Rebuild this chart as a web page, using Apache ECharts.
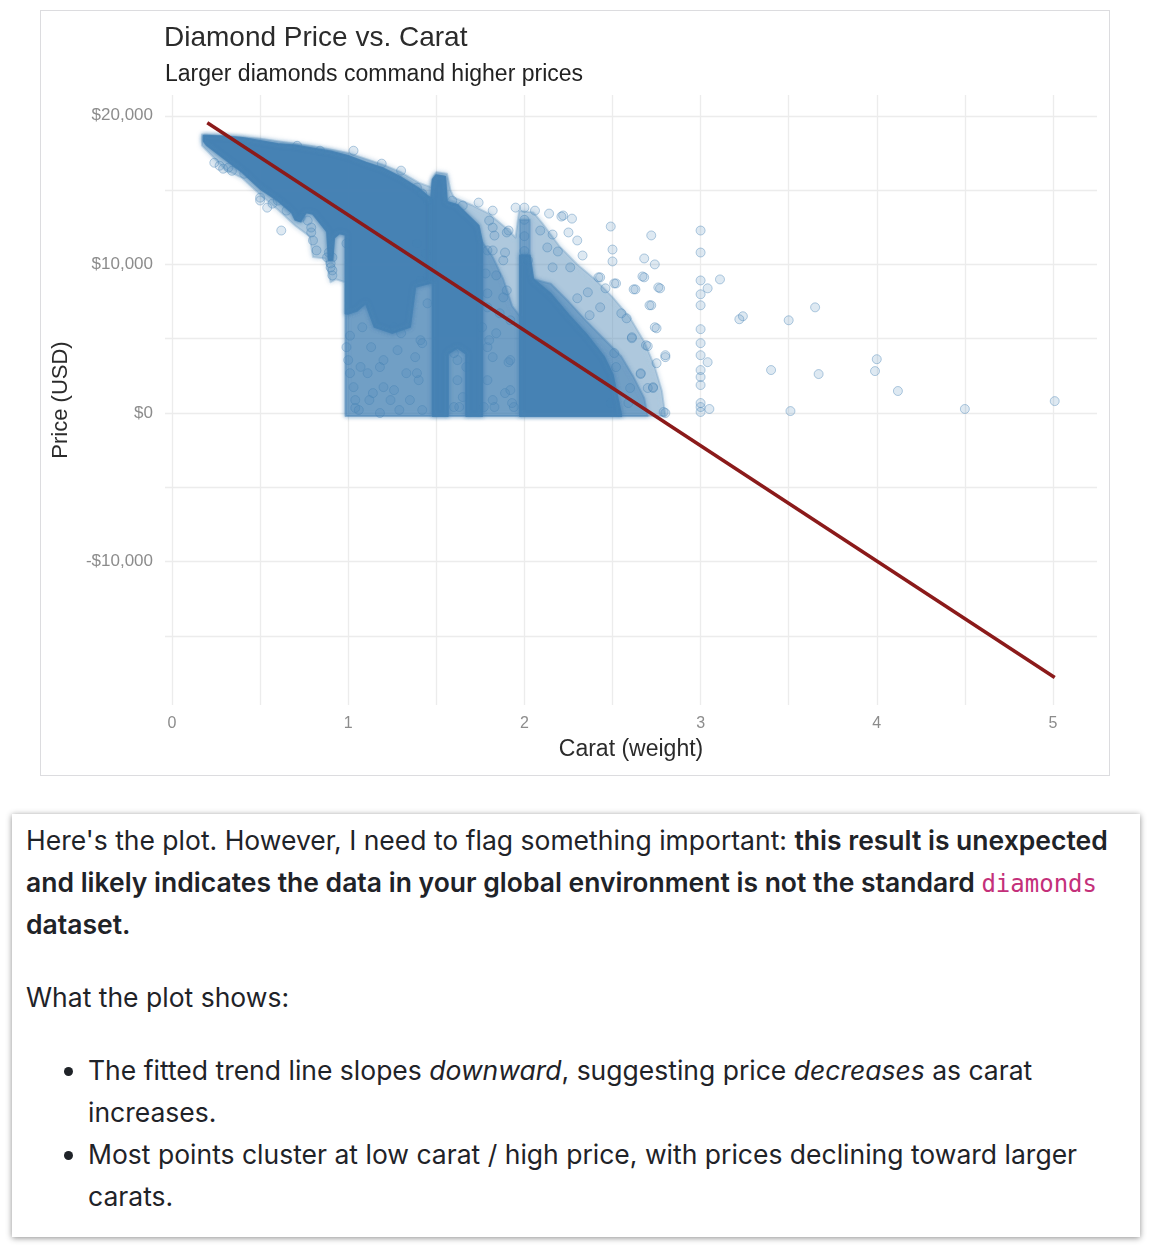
<!DOCTYPE html>
<html>
<head>
<meta charset="utf-8">
<script src="https://cdn.jsdelivr.net/npm/echarts@6/dist/echarts.min.js"></script>
<style>
  html, body { margin: 0; padding: 0; background: #fff; }
  body { width: 1152px; height: 1252px; position: relative; overflow: hidden; }
  #frame { position: absolute; left: 40px; top: 10px; width: 1068px; height: 764px; border: 1px solid #dcdcdf; }
  #chart { width: 1068px; height: 764px; }
  #note {
    position: absolute; left: 12px; top: 814px; width: 1100px; height: 396px;
    padding: 5px 14px 22px 14px; background: #fff;
    box-shadow: 0 1px 6px rgba(0,0,0,0.45);
    font-family: Inter, "Noto Sans", sans-serif; font-size: 26.5px; line-height: 42px; color: #1f2328;
  }
  #note p { margin: 0 0 31px 0; }
  #note strong { font-weight: 600; }
  #note code { font-family: "DejaVu Sans Mono", monospace; font-size: 24px; line-height: 1; font-weight: normal; color: #c4307a; }
  #note ul { margin: 0; padding-left: 62px; }
  #note li { margin: 0; }
</style>
</head>
<body>
<div id="frame"><div id="chart"></div></div>
<div id="note">
  <p>Here's the plot. However, I need to flag something important: <strong>this result is unexpected and likely indicates the data in your global environment is not the standard <code>diamonds</code> dataset.</strong></p>
  <p>What the plot shows:</p>
  <ul>
    <li>The fitted trend line slopes <em>downward</em>, suggesting price <em>decreases</em> as carat increases.</li>
    <li>Most points cluster at low carat / high price, with prices declining toward larger carats.</li>
  </ul>
</div>
<script>
// axis ticks
var caratTicks = [0, 1, 2, 3, 4, 5];
var caratGrid = [0, 0.5, 1, 1.5, 2, 2.5, 3, 3.5, 4, 4.5, 5];
var priceTicks = [-10000, 0, 10000, 20000];
var priceGrid = [-15000, -10000, -5000, 0, 5000, 10000, 15000, 20000];

// fitted trend line, end points
var trendCarat = [0.2, 5.01];
var trendPrice = [19530, -17800];

// overplotted regions of the scatter, outlines as [carat, price]
var cloudEnvelope = [[0.17,18750],[0.5,18450],[0.8,17950],[1.0,17500],[1.2,16700],[1.3,16200],[1.4,15500],[1.47,15200],[1.48,15800],[1.5,16200],[1.56,16100],[1.58,15000],[1.6,14500],[1.7,14000],[1.8,13400],[1.9,12400],[1.95,11800],[1.97,13600],[2.05,13500],[2.1,12800],[2.2,11200],[2.3,10000],[2.4,9000],[2.5,7800],[2.6,6400],[2.68,4800],[2.74,3100],[2.78,1500],[2.8,-200],[0.985,-200],[0.985,8800],[0.93,9000],[0.9,8800],[0.87,10400],[0.8,10500],[0.78,11900],[0.7,12600],[0.6,13700],[0.5,14700],[0.4,15800],[0.3,16400],[0.22,17400],[0.17,18000]];

var midOneCarat = [[0.985,6700],[1.0,6700],[1.05,6900],[1.1,7400],[1.15,5800],[1.25,5400],[1.35,5800],[1.38,8500],[1.46,8800],[1.48,8800],[1.48,-200],[0.985,-200]];
var midOneSixty = [[1.565,4000],[1.62,4400],[1.67,4000],[1.67,-200],[1.565,-200]];
var midOneEighty = [[1.76,11500],[1.82,10500],[1.88,9000],[1.93,7200],[1.975,6500],[1.975,-200],[1.76,-200]];
var midTwoTop = [[1.975,13000],[2.03,13000],[2.03,10600],[1.975,10600]];
var midTwoTail = [[2.05,9000],[2.15,8700],[2.25,7500],[2.35,6200],[2.45,5000],[2.55,3800],[2.62,2400],[2.68,1000],[2.7,-200],[2.55,-200],[2.5,2600],[2.45,3800],[2.35,5300],[2.25,6600],[2.15,8000]];

var denseSmall = [[0.18,18650],[0.3,18600],[0.4,18500],[0.5,18300],[0.6,18100],[0.7,18000],[0.8,17800],[0.9,17600],[1.0,17300],[1.1,16850],[1.2,16450],[1.3,15850],[1.4,15100],[1.48,14300],[1.48,8800],[1.38,8500],[1.35,5800],[1.25,5400],[1.15,5800],[1.1,7400],[1.05,6900],[1.0,6700],[0.985,6700],[0.985,12000],[0.95,12100],[0.92,11800],[0.91,10300],[0.89,10300],[0.88,12200],[0.8,13400],[0.76,13500],[0.73,12900],[0.7,13000],[0.68,13500],[0.6,14300],[0.5,15100],[0.4,16200],[0.3,17100],[0.2,18000],[0.18,18300]];
var denseOneHalf = [[1.47,14400],[1.48,15700],[1.5,16000],[1.55,15900],[1.56,14200],[1.62,14000],[1.68,13300],[1.74,12600],[1.76,11500],[1.76,-200],[1.67,-200],[1.67,4000],[1.62,4400],[1.565,4000],[1.565,-200],[1.48,-200],[1.48,8800],[1.47,8800]];
var denseTwo = [[1.975,10600],[2.03,10600],[2.05,9000],[2.15,8000],[2.25,6600],[2.35,5300],[2.45,3800],[2.5,2600],[2.55,-200],[1.975,-200]];

// individual points around the edges of the cloud
var edgeSmall = [[0.24,16840],[0.29,16440],[0.32,16510],[0.27,16640],[0.34,16300],[0.41,16100],[0.5,14490],[0.5,14300],[0.54,13820],[0.57,14090],[0.6,14290],[0.65,13620],[0.62,12280],[0.73,13150],[0.77,12950],[0.79,12150],[0.79,12480],[0.8,11610],[0.82,10940],[0.88,10470],[0.89,10800],[0.9,9800],[0.9,10070],[0.91,9260],[0.91,9600],[0.91,10470],[0.99,11410],[0.71,17980],[0.84,17650],[1.03,17650],[1.19,16780],[1.3,16310],[1.39,15170],[1.45,14290],[1.39,11410],[1.45,9130],[1.44,10740],[1.41,8920],[1.45,7380]];
var fuzzOneCarat = [[0.99,4430],[1.0,3560],[1.01,2680],[1.03,1740],[1.04,870],[1.06,200],[1.04,340],[1.12,870],[1.11,2680],[1.13,4430],[1.2,3560],[1.2,1740],[1.24,870],[1.29,200],[1.35,870],[1.4,2210],[1.38,3760],[1.42,4700],[1.33,2680],[1.28,4230],[1.08,5770],[1.26,5770],[1.42,200],[1.18,0],[1.14,1340],[1.26,1540],[1.18,3090],[1.39,2680],[1.41,4900],[1.3,5370],[1.01,5200],[1.07,3100]];
var fuzzOneHalf = [[1.42,14760],[1.59,14290],[1.65,13960],[1.74,14160],[1.82,13620],[1.8,12950],[1.91,12280],[1.83,11940],[1.88,10270],[1.84,9260],[1.88,7780],[1.92,6240],[1.84,5370],[1.82,3760],[1.92,3560],[1.79,2210],[1.89,1340],[1.83,400],[1.94,400],[1.77,400],[1.6,400],[1.65,1070],[1.62,2210],[1.67,3090],[1.6,4030],[1.79,4430],[1.76,5770],[1.86,6710],[1.79,8050],[1.78,9390],[1.82,10940],[1.62,3560],[1.63,400],[1.79,7110],[1.8,4900],[1.82,870],[1.82,12480],[1.79,10940],[1.89,10800],[1.9,8250],[1.91,3420],[1.92,1540],[1.93,670]];
var fuzzTwo = [[1.95,13820],[2.0,13820],[2.06,13620],[2.14,13420],[2.21,13220],[2.27,13080],[1.9,12150],[2.09,12280],[2.16,12010],[2.25,12150],[2.3,11610],[2.13,11140],[2.19,10870],[2.33,10600],[2.16,9800],[2.26,9800],[2.42,9130],[2.51,8720],[2.46,8390],[2.36,8120],[2.3,7720],[2.43,7110],[2.37,6580],[2.55,6710],[2.58,6370],[2.74,5770],[2.61,5100],[2.69,4560],[2.8,3890],[2.75,3350],[2.66,2680],[2.51,4030],[2.52,3090],[2.6,1680],[2.7,1680],[2.73,1740],[2.79,70],[2.59,670],[2.49,670],[2.0,13000],[2.0,11900],[2.0,10900],[2.02,10270],[2.22,13290],[2.49,12550],[2.5,11000],[2.5,10200],[2.68,10400],[2.74,10000],[2.43,9130],[2.68,9130],[2.52,8720],[2.62,8320],[2.77,8390],[2.72,7250],[2.75,5700],[2.61,5030],[2.7,4500],[2.8,3760],[2.66,2620],[2.73,1680],[2.8,0],[2.67,9190],[2.63,8320],[2.76,8450],[2.71,7250]];
var sparseLarge = [[2.72,11950],[3.0,12280],[3.0,10800],[3.0,8920],[3.11,8990],[3.04,8390],[3.0,7990],[3.22,6310],[3.24,6510],[3.5,6240],[3.65,7110],[3.0,7250],[3.0,5640],[3.0,4700],[3.0,3890],[3.04,3420],[3.4,2890],[3.67,2620],[4.0,3620],[3.99,2820],[4.12,1480],[3.0,2890],[3.0,2420],[3.0,1880],[3.0,670],[3.0,400],[3.0,70],[3.05,270],[3.51,130],[4.5,270],[5.01,800]];

var steel = 'rgb(70,130,180)';

function money(v) {
  return (v < 0 ? '-' : '') + '$' + Math.abs(v).toLocaleString('en-US');
}

function regionSeries(list, opacity, blur) {
  return {
    type: 'custom',
    silent: true,
    z: 1,
    data: list.map(function (poly) { return poly[0]; }),
    renderItem: function (params, api) {
      var pts = list[params.dataIndex].map(function (p) { return api.coord(p); });
      return {
        type: 'polygon', shape: { points: pts },
        style: { fill: steel, stroke: steel, lineWidth: 2, lineJoin: 'round', opacity: opacity, shadowBlur: blur, shadowColor: steel }
      };
    }
  };
}

var chart = echarts.init(document.getElementById('chart'), null, { renderer: 'canvas' });

var scatterPoints = [].concat(edgeSmall, fuzzOneCarat, fuzzOneHalf, fuzzTwo, sparseLarge);
var labelFont = 'Liberation Sans';

chart.setOption({
  animation: false,
  title: [
    { text: 'Diamond Price vs. Carat', left: 118, top: 8,
      textStyle: { fontFamily: labelFont, fontSize: 28, fontWeight: 'normal', color: '#2b2b2b' } },
    { text: 'Larger diamonds command higher prices', left: 119, top: 47,
      textStyle: { fontFamily: labelFont, fontSize: 23, fontWeight: 'normal', color: '#222' } }
  ],
  grid: { left: 124, top: 84, width: 932, height: 610, containLabel: false },
  xAxis: {
    type: 'value', min: -0.04, max: 5.25,
    name: 'Carat (weight)', nameLocation: 'middle', nameGap: 33,
    nameTextStyle: { fontFamily: labelFont, fontSize: 23, color: '#2b2b2b' },
    axisLine: { show: false },
    axisTick: { show: false, customValues: caratGrid },
    axisLabel: { customValues: caratTicks, margin: 11, fontFamily: labelFont, fontSize: 16, color: '#8c8c8c' },
    splitLine: { show: true, lineStyle: { color: '#ececec', width: 1.3 } }
  },
  yAxis: {
    type: 'value', min: -19650, max: 21400,
    name: 'Price (USD)', nameLocation: 'middle', nameGap: 93,
    nameTextStyle: { fontFamily: labelFont, fontSize: 22, color: '#2b2b2b' },
    axisLine: { show: false },
    axisTick: { show: false, customValues: priceGrid },
    axisLabel: { customValues: priceTicks, margin: 12, fontFamily: labelFont, fontSize: 17, color: '#8c8c8c', formatter: money },
    splitLine: { show: true, lineStyle: { color: '#ececec', width: 1.3 } }
  },
  series: [
    regionSeries([cloudEnvelope], 0.25, 5),
    regionSeries([midOneCarat, midOneSixty, midOneEighty, midTwoTop, midTwoTail], 0.35, 4),
    regionSeries([denseSmall, denseOneHalf, denseTwo], 0.9, 4),
    {
      type: 'scatter', z: 2, silent: true,
      symbolSize: 9,
      itemStyle: { color: 'rgba(70,130,180,0.22)', borderColor: 'rgba(70,130,180,0.5)', borderWidth: 1 },
      data: scatterPoints
    },
    {
      type: 'line', z: 3, silent: true, symbol: 'none',
      lineStyle: { color: '#8b1a1a', width: 3.5 },
      data: trendCarat.map(function (c, i) { return [c, trendPrice[i]]; })
    }
  ]
});
</script>
</body>
</html>
